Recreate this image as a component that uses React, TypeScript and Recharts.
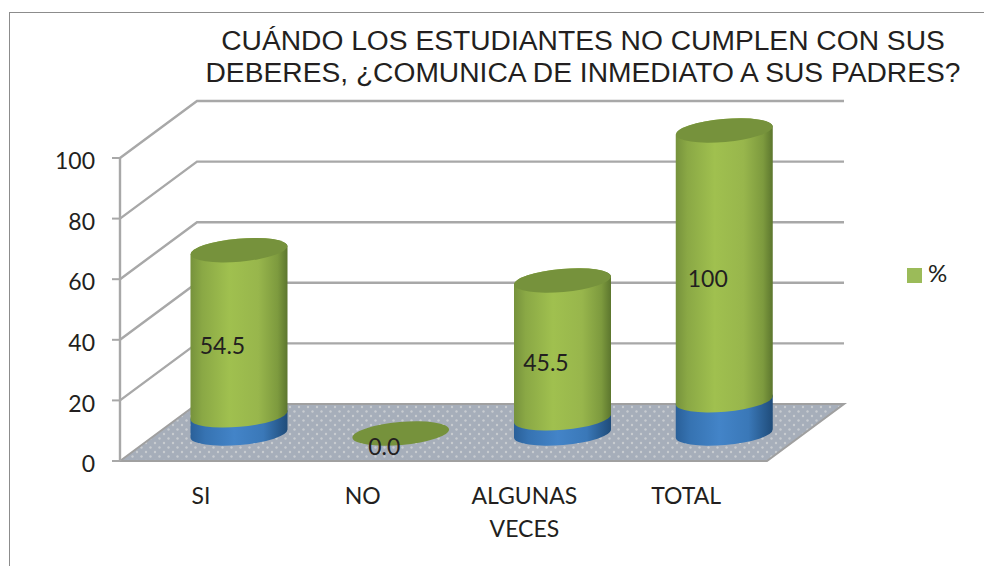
import { Bar, BarChart, CartesianGrid, Legend, XAxis, YAxis } from "recharts";

const categories = ["SI", "NO", "ALGUNAS VECES", "TOTAL"];
const counts = [6, 0, 5, 11];
// heights visible in the picture, TOTAL is cut off by the top of the axis
const percents = [54.5, 0, 45.5, 89];
const percentLabels = ["54.5", "0.0", "45.5", "100"];
const yTicks = [0, 20, 40, 60, 80, 100];

const data = categories.map((name, i) => ({
  name,
  count: counts[i],
  percent: percents[i],
  label: percentLabels[i],
}));

const DEPTH_X = 77;
const DEPTH_Y = -57;
const TILT = 5;
const TEXT = "#231f20";
const LATO = "Lato, sans-serif";

const Cylinder = ({ x, y, width, height, payload, kind }: any) => {
  const bottom = y + height;
  const rx = width / 2;
  const ry = 11.5;
  const cx = x + rx + DEPTH_X / 2;
  const shift = DEPTH_Y / 2 + 1;
  const yt = y + shift;
  const yb = bottom + shift;
  const dy = rx * Math.sin((TILT * Math.PI) / 180);
  const arc = `A${rx} ${ry} ${-TILT} 0 0`;
  const side = `M${cx - rx} ${yt + dy} L${cx - rx} ${yb + dy} ${arc} ${cx + rx} ${yb - dy} L${cx + rx} ${yt - dy} ${arc} ${cx - rx} ${yt + dy}Z`;

  if (kind === "count") {
    if (height <= 0) return null;
    return <path d={side} fill="url(#blueSide)" />;
  }
  return (
    <g>
      {height > 0 && <path d={side} fill="url(#greenSide)" />}
      <ellipse
        cx={cx}
        cy={yt}
        rx={rx}
        ry={ry}
        fill="#76923c"
        transform={`rotate(${-TILT} ${cx} ${yt})`}
      />
      <text
        x={x + rx + 22}
        y={(y + bottom) / 2 - 15}
        textAnchor="middle"
        dominantBaseline="central"
        fontFamily={LATO}
        fontSize={23}
        fill={TEXT}
      >
        {payload.label}
      </text>
    </g>
  );
};

// wall lines bend back from the axis, the zero line also draws the floor
const WallLine = ({ x1, x2, y1, index, bottomY }: any) => {
  const line = (
    <path
      key={`wall-${index}`}
      d={`M${x1} ${y1} L${x1 + DEPTH_X} ${y1 + DEPTH_Y} L${x2 + DEPTH_X} ${y1 + DEPTH_Y}`}
      fill="none"
      stroke="#a8a8a8"
      strokeWidth={2.4}
    />
  );
  if (y1 < bottomY) return line;
  return (
    <g key={`floor-${index}`}>
      <path
        d={`M${x1} ${y1} L${x1 + DEPTH_X} ${y1 + DEPTH_Y} L${x2 + DEPTH_X} ${y1 + DEPTH_Y} L${x2} ${y1}Z`}
        fill="url(#floorDots)"
        stroke="#a0a0a0"
        strokeWidth={2}
      />
    </g>
  );
};

const CategoryTick = ({ x, y, payload }: any) => {
  const words = payload.value.split(" ");
  return (
    <text x={x} textAnchor="middle" fontFamily={LATO} fontSize={23} fill={TEXT}>
      {words.map((w: string, i: number) => (
        <tspan key={w} x={x} y={y + 35 + i * 33}>
          {w}
        </tspan>
      ))}
    </text>
  );
};

export default function App() {
  return (
    <div style={{ position: "fixed", left: 0, top: 0, width: 984, height: 566, background: "#fff" }}>
      <div
        style={{
          position: "absolute",
          left: 9,
          top: 12,
          right: 0,
          bottom: 0,
          borderLeft: "1px solid #8c8c8c",
          borderTop: "1px solid #8c8c8c",
        }}
      />
      <div
        style={{
          position: "absolute",
          left: 183,
          top: 24,
          width: 800,
          textAlign: "center",
          fontFamily: "'Liberation Sans', sans-serif",
          fontSize: 28.2,
          lineHeight: "32px",
          color: TEXT,
        }}
      >
        CUÁNDO LOS ESTUDIANTES NO CUMPLEN CON SUS
        <br />
        DEBERES, ¿COMUNICA DE INMEDIATO A SUS PADRES?
      </div>
      <div style={{ position: "absolute", left: 0, top: 0 }}>
        <BarChart
          width={984}
          height={566}
          data={data}
          margin={{ top: 158, right: 157, bottom: 25, left: 60 }}
          style={{ fontFamily: LATO }}
        >
          <defs>
            <linearGradient id="greenSide" x1="0" y1="0" x2="1" y2="0">
              <stop offset="0%" stopColor="#76923c" />
              <stop offset="12%" stopColor="#8aa845" />
              <stop offset="40%" stopColor="#a0c04f" />
              <stop offset="70%" stopColor="#98b64c" />
              <stop offset="90%" stopColor="#7d9a3e" />
              <stop offset="100%" stopColor="#5c762e" />
            </linearGradient>
            <linearGradient id="blueSide" x1="0" y1="0" x2="1" y2="0">
              <stop offset="0%" stopColor="#2a6099" />
              <stop offset="15%" stopColor="#3673b2" />
              <stop offset="45%" stopColor="#4384c8" />
              <stop offset="75%" stopColor="#3a78b8" />
              <stop offset="100%" stopColor="#1f4c7a" />
            </linearGradient>
            <pattern id="floorDots" width="9" height="9" patternUnits="userSpaceOnUse">
              <rect width="9" height="9" fill="#a6aeba" />
              <circle cx="2" cy="2" r="1.2" fill="#c8ccd0" />
              <circle cx="6.5" cy="6.5" r="1.2" fill="#c8ccd0" />
            </pattern>
          </defs>
          <CartesianGrid
            vertical={false}
            horizontal={(props: any) => <WallLine {...props} bottomY={461} />}
          />
          <XAxis
            dataKey="name"
            height={80}
            interval={0}
            axisLine={false}
            tickLine={false}
            tick={<CategoryTick />}
          />
          <YAxis
            width={60}
            domain={[0, 100]}
            ticks={yTicks}
            axisLine={{ stroke: "#a8a8a8", strokeWidth: 2.4 }}
            tickLine={{ stroke: "#a8a8a8", strokeWidth: 2 }}
            tickSize={8}
            tickMargin={17}
            tick={{ fontFamily: LATO, fontSize: 23, fill: TEXT, dy: 3 }}
          />
          <Legend
            layout="vertical"
            align="right"
            verticalAlign="top"
            iconType="square"
            iconSize={15}
            wrapperStyle={{ position: "absolute", left: 907, top: 258, width: 60, fontSize: 24, fontFamily: LATO }}
            formatter={(v: string) => <span style={{ color: TEXT, marginLeft: 2 }}>{v}</span>}
          />
          <Bar
            dataKey="count"
            stackId="a"
            barSize={97}
            legendType="none"
            fill="#4f81bd"
            isAnimationActive={false}
            shape={(p: any) => <Cylinder {...p} kind="count" />}
          />
          <Bar
            dataKey="percent"
            name="%"
            stackId="a"
            barSize={97}
            fill="#9bbb59"
            isAnimationActive={false}
            shape={(p: any) => <Cylinder {...p} kind="percent" />}
          />
        </BarChart>
      </div>
    </div>
  );
}
